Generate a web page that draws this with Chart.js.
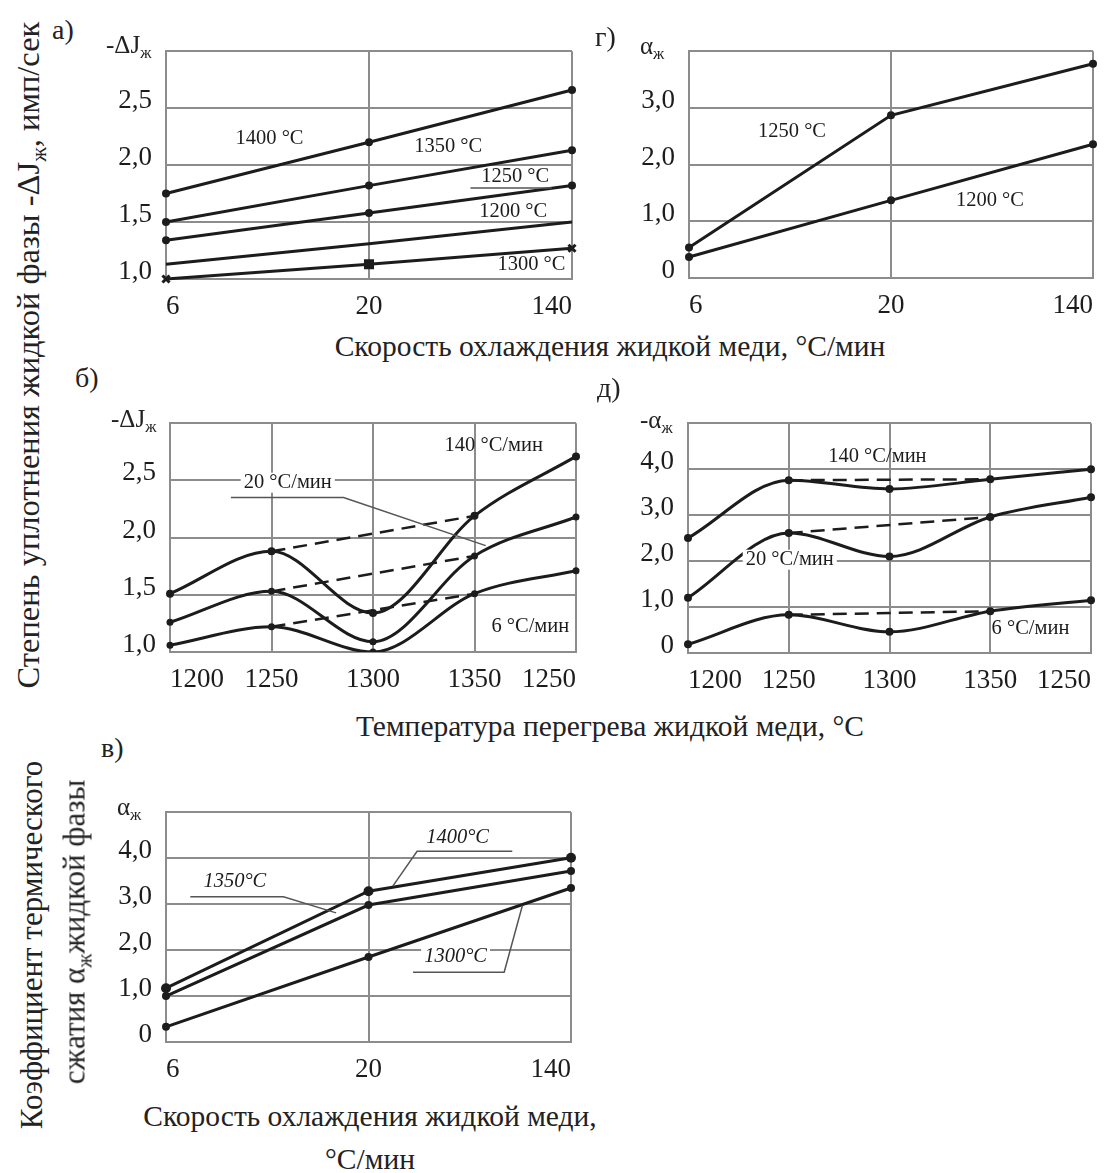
<!DOCTYPE html>
<html>
<head>
<meta charset="utf-8">
<script src="https://cdn.jsdelivr.net/npm/chart.js@4.4.1/dist/chart.umd.min.js"></script>
<style>
  body { margin: 0; background: #fff; }
  #page { position: relative; width: 1108px; height: 1173px; font-family: "Liberation Serif", serif; color: #222; overflow: hidden; }
  .box { position: absolute; }
  .t { position: absolute; white-space: nowrap; line-height: 1; }
  .c { transform: translate(-50%, -50%); }
  .l { transform: translateY(-50%); }
  .v { transform: translate(-50%, -50%) rotate(-90deg); }
  sub { font-size: 65%; vertical-align: -0.35em; line-height: 0; }
</style>
</head>
<body>
<div id="page">
  <div class="box" id="boxA"><canvas id="chartA"></canvas></div>
  <div class="box" id="boxG"><canvas id="chartG"></canvas></div>
  <div class="box" id="boxB"><canvas id="chartB"></canvas></div>
  <div class="box" id="boxD"><canvas id="chartD"></canvas></div>
  <div class="box" id="boxV"><canvas id="chartV"></canvas></div>

  <div class="t l" style="left:52px;top:30px;font-size:28px">а)</div>
  <div class="t l" style="left:106px;top:44px;font-size:25px">-ΔJ<sub>ж</sub></div>
  <div class="t l" style="left:595px;top:37px;font-size:28px">г)</div>
  <div class="t l" style="left:640px;top:45px;font-size:25px">α<sub>ж</sub></div>
  <div class="t l" style="left:75px;top:378px;font-size:28px">б)</div>
  <div class="t l" style="left:111px;top:418px;font-size:25px">-ΔJ<sub>ж</sub></div>
  <div class="t l" style="left:597px;top:388px;font-size:28px">д)</div>
  <div class="t l" style="left:640px;top:419px;font-size:25px">-α<sub>ж</sub></div>
  <div class="t l" style="left:101px;top:748px;font-size:28px">в)</div>
  <div class="t l" style="left:117px;top:806px;font-size:25px">α<sub>ж</sub></div>

  <div class="t c" style="left:610px;top:347px;font-size:29.5px">Скорость охлаждения жидкой меди, °С/мин</div>
  <div class="t c" style="left:610px;top:727px;font-size:29.5px">Температура перегрева жидкой меди, °С</div>
  <div class="t c" style="left:370px;top:1117px;font-size:29.5px">Скорость охлаждения жидкой меди,</div>
  <div class="t c" style="left:370px;top:1160px;font-size:29.5px">°С/мин</div>

  <div class="t v" style="left:28px;top:355px;font-size:32.5px">Степень уплотнения жидкой фазы -ΔJ<sub>ж</sub>, имп/сек</div>
  <div class="t v" style="left:31px;top:945px;font-size:31px">Коэффициент термического</div>
  <div class="t v" style="left:74px;top:932px;font-size:31px">сжатия α<sub>ж</sub>жидкой фазы</div>
</div>

<script>
// tick labels
var rateTicks = ["6", "20", "140"];
var tempTicks = ["1200", "1250", "1300", "1350", "1250"];

// а) -ΔJж по скорости охлаждения
var a1400 = [1.75, 2.20, 2.66];
var a1350 = [1.50, 1.82, 2.13];
var a1250 = [1.34, 1.58, 1.82];
var a1200 = [1.13, 1.31, 1.50];
var a1300 = [1.00, 1.13, 1.27];

// г) αж по скорости охлаждения
var g1250 = [0.54, 2.87, 3.78];
var g1200 = [0.37, 1.37, 2.36];

// б) -ΔJж по температуре перегрева
var b140 = [1.51, 1.88, 1.34, 2.19, 2.71];
var b20 = [1.26, 1.53, 1.09, 1.84, 2.18];
var b6 = [1.06, 1.22, 1.00, 1.51, 1.71];

// д) -αж по температуре перегрева
var d140 = [2.50, 3.76, 3.57, 3.78, 4.00];
var d20 = [1.20, 2.61, 2.10, 2.96, 3.39];
var d6 = [0.19, 0.83, 0.46, 0.91, 1.15];

// в) αж по скорости охлаждения
var v1400 = [1.17, 3.28, 4.01];
var v1350 = [1.00, 2.98, 3.72];
var v1300 = [0.33, 1.85, 3.35];

var INK = "#1c1c1c";
var GRID = "#8c8c8c";
var SERIF = "'Liberation Serif', serif";

// dashed bridge between 1250 and 1350
function bridge(arr) {
  return arr.map(function (v, i) { return (i == 1 || i == 3) ? v : null; });
}

function solid(data, extra) {
  var ds = {
    data: data,
    borderColor: INK,
    backgroundColor: INK,
    borderWidth: 3,
    pointRadius: 4,
    pointBorderWidth: 0,
    fill: false
  };
  for (var k in extra) ds[k] = extra[k];
  return ds;
}

function dashed(data) {
  return {
    data: data,
    borderColor: INK,
    borderWidth: 2.5,
    borderDash: [14, 8],
    pointRadius: 0,
    spanGaps: true,
    tension: 0,
    fill: false
  };
}

// text labels and leader lines, placed in data units
var annotate = {
  id: "annotate",
  afterDatasetsDraw: function (chart, args, opts) {
    var ctx = chart.ctx;
    var x = chart.scales.x, y = chart.scales.y;
    ctx.save();
    (opts.lines || []).forEach(function (pts) {
      ctx.beginPath();
      ctx.lineWidth = 1.5;
      ctx.strokeStyle = "#555";
      pts.forEach(function (p, i) {
        var px = x.getPixelForValue(p[0]), py = y.getPixelForValue(p[1]);
        if (i) ctx.lineTo(px, py); else ctx.moveTo(px, py);
      });
      ctx.stroke();
    });
    (opts.labels || []).forEach(function (l) {
      var px = x.getPixelForValue(l.x), py = y.getPixelForValue(l.y);
      ctx.font = (l.italic ? "italic " : "") + "20.5px " + SERIF;
      ctx.textAlign = "center";
      ctx.textBaseline = "middle";
      if (l.bg) {
        var w = ctx.measureText(l.text).width;
        ctx.fillStyle = "#fff";
        ctx.fillRect(px - w / 2 - 3, py - 10, w + 6, 20);
      }
      ctx.fillStyle = INK;
      ctx.fillText(l.text, px, py);
    });
    ctx.restore();
  }
};

var PAD_L = 90, PAD_T = 20, PAD_R = 30, PAD_B = 50;

function makeChart(id, box, labels, datasets, yMin, yMax, yStep, ann) {
  var holder = document.getElementById("box" + id);
  var W = box[2] - box[0] + PAD_L + PAD_R;
  var H = box[3] - box[1] + PAD_T + PAD_B;
  holder.style.left = (box[0] - PAD_L) + "px";
  holder.style.top = (box[1] - PAD_T) + "px";
  var cv = document.getElementById("chart" + id);
  cv.width = W;
  cv.height = H;
  cv.style.width = W + "px";
  cv.style.height = H + "px";

  return new Chart(cv, {
    type: "line",
    data: { labels: labels, datasets: datasets },
    options: {
      responsive: false,
      animation: false,
      layout: { padding: { left: 0, top: PAD_T, right: PAD_R, bottom: 0 } },
      plugins: {
        legend: { display: false },
        tooltip: { enabled: false },
        annotate: ann
      },
      scales: {
        x: {
          offset: false,
          grid: { color: GRID, lineWidth: 2, drawTicks: false },
          border: { color: GRID, width: 2 },
          ticks: {
            color: INK,
            align: "inner",
            padding: 12,
            maxRotation: 0,
            autoSkip: false,
            font: { family: SERIF, size: 27 }
          },
          afterFit: function (s) { s.height = PAD_B; }
        },
        y: {
          min: yMin,
          max: yMax,
          grid: { color: GRID, lineWidth: 2, drawTicks: false },
          border: { color: GRID, width: 2 },
          ticks: {
            color: INK,
            stepSize: yStep,
            padding: 14,
            labelOffset: -7,
            font: { family: SERIF, size: 27 },
            callback: function (v) {
              if (v >= yMax) return "";
              if (v == 0) return "0";
              return v.toFixed(1).replace(".", ",");
            }
          },
          afterFit: function (s) { s.width = PAD_L; }
        }
      }
    },
    plugins: [annotate]
  });
}

// а)
makeChart("A", [166, 41, 572, 279], rateTicks, [
  solid(a1400),
  solid(a1350),
  solid(a1250),
  solid(a1200, { pointRadius: 0 }),
  solid(a1300, { pointStyle: ["crossRot", "rect", "crossRot"], pointRadius: 5, pointBorderWidth: 3, clip: false })
], 1, 3, 0.5, {
  labels: [
    { text: "1400 °C", x: 0.51, y: 2.23 },
    { text: "1350 °C", x: 1.39, y: 2.16 },
    { text: "1250 °C", x: 1.72, y: 1.90 },
    { text: "1200 °C", x: 1.71, y: 1.59 },
    { text: "1300 °C", x: 1.80, y: 1.13 }
  ],
  lines: [[[1.50, 1.80], [1.90, 1.80]]]
});

// г)
makeChart("G", [689, 41, 1093, 278], rateTicks, [
  solid(g1250),
  solid(g1200)
], 0, 4, 1, {
  labels: [
    { text: "1250 °C", x: 0.51, y: 2.58 },
    { text: "1200 °C", x: 1.49, y: 1.37 }
  ]
});

// б)
makeChart("B", [170, 413, 576, 652], tempTicks, [
  solid(b140, { cubicInterpolationMode: "monotone", pointRadius: 4 }),
  solid(b20, { cubicInterpolationMode: "monotone", pointRadius: 3.5 }),
  solid(b6, { cubicInterpolationMode: "monotone", pointRadius: 3.5 }),
  dashed(bridge(b140)),
  dashed(bridge(b20)),
  dashed(bridge(b6))
], 1, 3, 0.5, {
  labels: [
    { text: "140 °С/мин", x: 3.19, y: 2.80 },
    { text: "20 °С/мин", x: 1.16, y: 2.48, bg: true },
    { text: "6 °С/мин", x: 3.55, y: 1.22 }
  ],
  lines: [[[0.60, 2.35], [1.71, 2.35], [3.11, 1.93]]]
});

// д)
makeChart("D", [688, 413, 1091, 653], tempTicks, [
  solid(d140, { cubicInterpolationMode: "monotone" }),
  solid(d20, { cubicInterpolationMode: "monotone" }),
  solid(d6, { cubicInterpolationMode: "monotone" }),
  dashed(bridge(d140)),
  dashed(bridge(d20)),
  dashed(bridge(d6))
], 0, 5, 1, {
  labels: [
    { text: "140 °С/мин", x: 1.88, y: 4.27 },
    { text: "20 °С/мин", x: 1.01, y: 2.03, bg: true },
    { text: "6 °С/мин", x: 3.40, y: 0.52 }
  ]
});

// в)
makeChart("V", [166, 802, 571, 1042], rateTicks, [
  solid(v1400, { pointRadius: 5 }),
  solid(v1350),
  solid(v1300)
], 0, 5, 1, {
  labels: [
    { text: "1400°С", x: 1.44, y: 4.45, italic: true },
    { text: "1350°С", x: 0.34, y: 3.49, italic: true },
    { text: "1300°С", x: 1.43, y: 1.86, italic: true, bg: true }
  ],
  lines: [
    [[1.71, 4.15], [1.24, 4.15], [1.12, 3.39]],
    [[0.12, 3.16], [0.58, 3.16], [0.84, 2.81]],
    [[1.22, 1.52], [1.67, 1.52], [1.76, 2.97]]
  ]
});
</script>
</body>
</html>
